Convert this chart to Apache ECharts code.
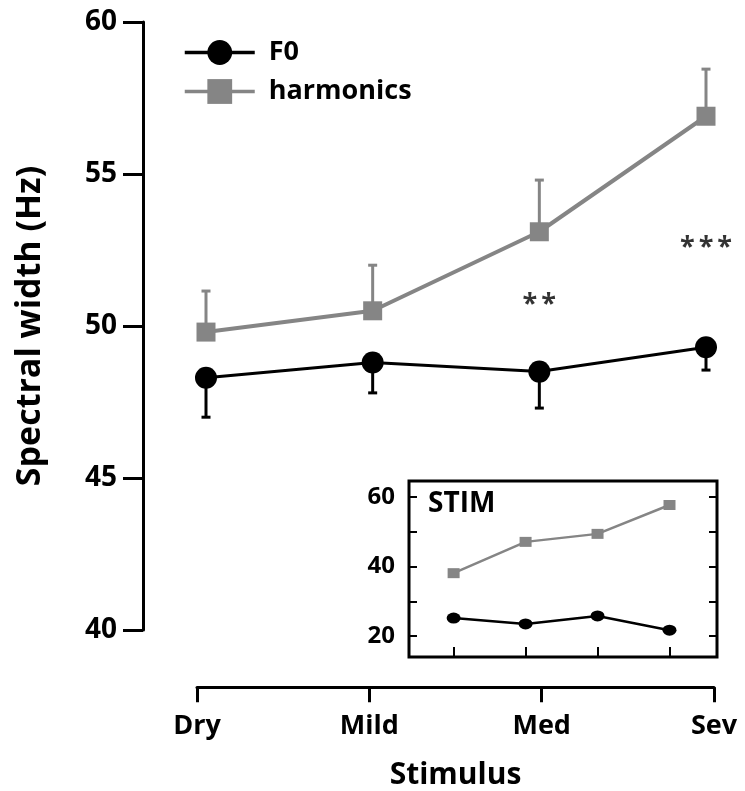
<!DOCTYPE html>
<html>
<head>
<meta charset="utf-8">
<script src="https://cdn.jsdelivr.net/npm/echarts@6/dist/echarts.min.js"></script>
<style>
  html, body { margin: 0; padding: 0; background: #fff; }
  #container { width: 745px; height: 791px; }
</style>
</head>
<body>
<div id="container"></div>
<script>
var categories = ['Dry', 'Mild', 'Med', 'Sev'];
var f0Mean = [48.3, 48.8, 48.5, 49.3];
var f0Err = [1.3, 1.0, 1.2, 0.75];
var harmMean = [49.8, 50.5, 53.1, 56.9];
var harmErr = [1.35, 1.5, 1.7, 1.55];
var sigLevel = [null, null, 50.8, 52.7];
var sigText = ['', '', '**', '***'];
var mainTicks = [40, 45, 50, 55, 60];

var stimF0 = [25.2, 23.5, 25.8, 21.7];
var stimHarm = [38.1, 47.1, 49.4, 57.7];
var insetTicks = [20, 30, 40, 50, 60];
var insetLabels = [20, 40, 60];

var font = 'Open Sans';
var gray = '#858585';

var dom = document.getElementById('container');
var myChart = echarts.init(dom, null, { renderer: 'canvas' });

function errorBars(dir, color) {
    return function (params, api) {
        var i = api.value(0);
        var y = api.value(1);
        var e = api.value(2);
        var p0 = api.coord([i, y]);
        var p1 = api.coord([i, y + dir * e]);
        var half = 4.5;
        return {
            type: 'group',
            children: [
                { type: 'line', shape: { x1: p0[0], y1: p0[1], x2: p1[0], y2: p1[1] }, style: { stroke: color, lineWidth: 3 } },
                { type: 'line', shape: { x1: p1[0] - half, y1: p1[1], x2: p1[0] + half, y2: p1[1] }, style: { stroke: color, lineWidth: 3 } }
            ]
        };
    };
}

var sigData = [];
sigLevel.forEach(function (v, i) {
    if (v !== null) sigData.push([i, v, sigText[i]]);
});

option = {
    backgroundColor: '#fff',
    animation: false,
    textStyle: { fontFamily: font },
    title: {
        text: 'STIM',
        left: 428,
        top: 490,
        padding: 0,
        textStyle: { fontFamily: font, fontSize: 28, fontWeight: 'bold', color: '#000' }
    },
    legend: {
        data: [
            { name: 'F0', lineStyle: { width: 3.5 } },
            { name: 'harmonics', lineStyle: { width: 3.5 } }
        ],
        orient: 'vertical',
        left: 183,
        top: 39,
        padding: 0,
        itemWidth: 70,
        itemHeight: 31,
        itemGap: 12,
        textStyle: { fontFamily: font, fontSize: 27, fontWeight: 'bold', color: '#000', padding: [0, 0, 0, 9] }
    },
    grid: [
        { left: 206, right: 39, top: 22, bottom: 161 },
        { left: 197, right: 31, top: 687, height: 1 },
        { left: 409, right: 28, top: 481, bottom: 134, show: true, borderColor: '#000', borderWidth: 3, backgroundColor: 'transparent' }
    ],
    xAxis: [
        { gridIndex: 0, type: 'category', data: categories, boundaryGap: false, show: false },
        {
            gridIndex: 1, type: 'category', data: categories, boundaryGap: false, position: 'bottom',
            axisLine: { lineStyle: { color: '#000', width: 3 } },
            axisTick: { length: 15, lineStyle: { color: '#000', width: 3 } },
            axisLabel: { margin: 26, fontFamily: font, fontSize: 27, fontWeight: 'bold', color: '#000' },
            name: 'Stimulus', nameLocation: 'middle', nameGap: 73,
            nameTextStyle: { fontFamily: font, fontSize: 30, fontWeight: 'bold', color: '#000' }
        },
        {
            gridIndex: 2, type: 'value', min: -0.62, max: 3.66,
            axisLine: { show: false, onZero: false },
            axisTick: { inside: true, length: 10, customValues: [0, 1, 2, 3], lineStyle: { color: '#000', width: 2 } },
            axisLabel: { show: false },
            splitLine: { show: false }
        }
    ],
    yAxis: [
        {
            gridIndex: 0, type: 'value', min: 40, max: 60, interval: 5, offset: 63,
            axisLine: { show: true, onZero: false, lineStyle: { color: '#000', width: 3 } },
            axisTick: { show: true, length: 20, customValues: mainTicks, lineStyle: { color: '#000', width: 3 } },
            axisLabel: { margin: 26, customValues: mainTicks, fontFamily: font, fontSize: 28, fontWeight: 'bold', color: '#000' },
            splitLine: { show: false },
            name: 'Spectral width (Hz)', nameLocation: 'middle', nameGap: 96,
            nameTextStyle: { fontFamily: font, fontSize: 34, fontWeight: 'bold', color: '#000' }
        },
        { gridIndex: 1, type: 'value', show: false },
        {
            gridIndex: 2, type: 'value', min: 14, max: 64.6,
            axisLine: { show: false, onZero: false },
            axisTick: { show: true, inside: true, length: 8, customValues: insetTicks, lineStyle: { color: '#000', width: 2 } },
            axisLabel: { margin: 14, customValues: insetLabels, fontFamily: font, fontSize: 24, fontWeight: 'bold', color: '#000' },
            splitLine: { show: false }
        },
        {
            gridIndex: 2, type: 'value', min: 14, max: 64.6, position: 'right',
            axisLine: { show: false, onZero: false },
            axisTick: { show: true, inside: true, length: 8, customValues: insetTicks, lineStyle: { color: '#000', width: 2 } },
            axisLabel: { show: false },
            splitLine: { show: false }
        }
    ],
    series: [
        {
            name: 'harmonics err', type: 'custom', xAxisIndex: 0, yAxisIndex: 0, z: 1,
            renderItem: errorBars(1, gray),
            encode: { x: 0, y: 1 },
            data: categories.map(function (c, i) { return [i, harmMean[i], harmErr[i]]; })
        },
        {
            name: 'F0 err', type: 'custom', xAxisIndex: 0, yAxisIndex: 0, z: 1,
            renderItem: errorBars(-1, '#000'),
            encode: { x: 0, y: 1 },
            data: categories.map(function (c, i) { return [i, f0Mean[i], f0Err[i]]; })
        },
        {
            name: 'harmonics', type: 'line', xAxisIndex: 0, yAxisIndex: 0, z: 3,
            data: harmMean,
            symbol: 'rect', symbolSize: 19,
            itemStyle: { color: gray },
            lineStyle: { color: gray, width: 4 }
        },
        {
            name: 'F0', type: 'line', xAxisIndex: 0, yAxisIndex: 0, z: 4,
            data: f0Mean,
            symbol: 'circle', symbolSize: 22,
            itemStyle: { color: '#000' },
            lineStyle: { color: '#000', width: 3 }
        },
        {
            name: 'significance', type: 'scatter', xAxisIndex: 0, yAxisIndex: 0,
            data: sigData,
            symbolSize: 0,
            label: {
                show: true, position: 'inside', offset: [0, 3],
                formatter: function (p) {
                    return p.value[2].split('').map(function (s) { return '{s|' + s + '}'; }).join('');
                },
                rich: {
                    s: { fontFamily: font, fontSize: 27, fontWeight: 'bold', color: '#000', padding: [0, 2] }
                }
            }
        },
        {
            name: 'harmonics STIM', type: 'line', xAxisIndex: 2, yAxisIndex: 2,
            data: stimHarm.map(function (v, i) { return [i, v]; }),
            symbol: 'rect', symbolSize: [12, 10],
            itemStyle: { color: gray },
            lineStyle: { color: gray, width: 2.5 }
        },
        {
            name: 'F0 STIM', type: 'line', xAxisIndex: 2, yAxisIndex: 2,
            data: stimF0.map(function (v, i) { return [i, v]; }),
            symbol: 'circle', symbolSize: [14, 11],
            itemStyle: { color: '#000' },
            lineStyle: { color: '#000', width: 2.5 }
        }
    ]
};

if (option && typeof option === 'object') {
    myChart.setOption(option, true);
}
</script>
</body>
</html>
